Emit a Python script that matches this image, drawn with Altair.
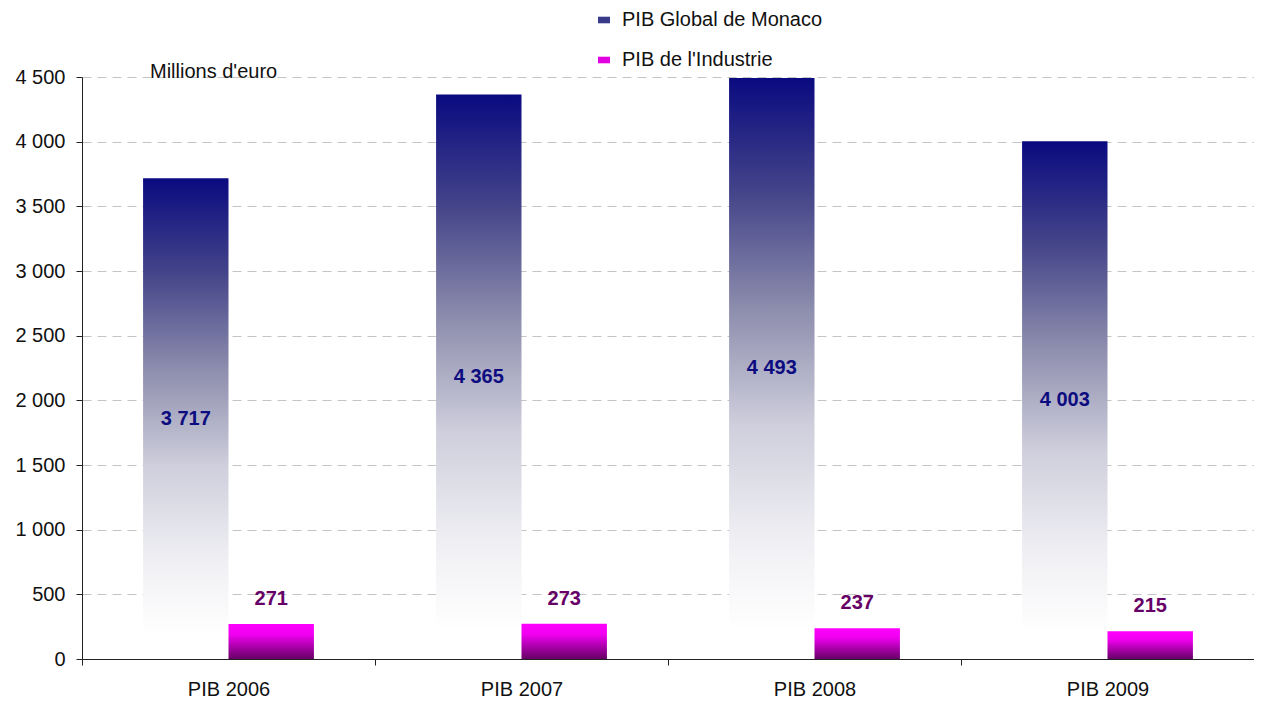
import altair as alt
import pandas as pd

categories = ["PIB 2006", "PIB 2007", "PIB 2008", "PIB 2009"]
pib_global = [3717, 4365, 4493, 4003]
pib_industrie = [271, 273, 237, 215]
series_names = ["PIB Global de Monaco", "PIB de l'Industrie"]
y_ticks = [0, 500, 1000, 1500, 2000, 2500, 3000, 3500, 4000, 4500]

rows = []
for c, g, i in zip(categories, pib_global, pib_industrie):
    rows.append({"cat": c, "series": series_names[0], "value": g})
    rows.append({"cat": c, "series": series_names[1], "value": i})
df = pd.DataFrame(rows)

FONT = "Liberation Sans"

base = alt.Chart(df).transform_calculate(
    half="datum.value / 2",
    label="replace(format(datum.value, ','), ',', ' ')",
)

x_enc = alt.X(
    "cat:N",
    sort=categories,
    title=None,
    scale=alt.Scale(paddingInner=0, paddingOuter=0),
    axis=alt.Axis(
        tickBand="extent",
        domainColor="#222222",
        tickColor="#222222",
        tickSize=6,
        labelFontSize=20,
        labelColor="#111111",
        labelPadding=14,
        labelAngle=0,
        grid=False,
    ),
)
xo_enc = alt.XOffset(
    "series:N",
    scale=alt.Scale(domain=series_names, paddingInner=0, paddingOuter=0.715),
    sort=series_names,
)
y_scale = alt.Scale(domain=[0, 4500], nice=False)
y_axis = alt.Axis(
    values=y_ticks,
    labelExpr="replace(format(datum.value, ','), ',', ' ')",
    domainColor="#222222",
    tickColor="#222222",
    tickSize=6,
    labelFontSize=20,
    labelColor="#111111",
    labelPadding=11,
    grid=True,
    gridColor="#c4c4c4",
    gridDash=[9, 6],
    gridWidth=1,
)

grad_global = alt.LinearGradient(
    gradient="linear",
    x1=0, x2=0, y1=0, y2=1,
    stops=[
        alt.GradientStop(offset=0, color="#0a0a80"),
        alt.GradientStop(offset=0.2, color="#45458a"),
        alt.GradientStop(offset=0.4, color="#8e8eae"),
        alt.GradientStop(offset=0.6, color="#cfcfdd"),
        alt.GradientStop(offset=0.8, color="#f0f0f4"),
        alt.GradientStop(offset=0.95, color="#ffffff"),
        alt.GradientStop(offset=1, color="#ffffff"),
    ],
)
grad_ind = alt.LinearGradient(
    gradient="linear",
    x1=0, x2=0, y1=0, y2=1,
    stops=[
        alt.GradientStop(offset=0, color="#ff00ff"),
        alt.GradientStop(offset=0.3, color="#f000f0"),
        alt.GradientStop(offset=0.65, color="#aa00aa"),
        alt.GradientStop(offset=1, color="#660066"),
    ],
)

bars_global = base.transform_filter(alt.datum.series == series_names[0]).mark_bar(
    color=grad_global
).encode(x=x_enc, xOffset=xo_enc, y=alt.Y("value:Q", scale=y_scale, axis=y_axis, title=None))

bars_ind = base.transform_filter(alt.datum.series == series_names[1]).mark_bar(
    color=grad_ind
).encode(x=x_enc, xOffset=xo_enc, y=alt.Y("value:Q", scale=y_scale, axis=y_axis, title=None))

text_global = base.transform_filter(alt.datum.series == series_names[0]).mark_text(
    font=FONT, fontSize=20, fontWeight="bold", color="#0c0c80", baseline="middle"
).encode(x=x_enc, xOffset=xo_enc, y=alt.Y("half:Q", scale=y_scale, axis=y_axis, title=None), text="label:N")

text_ind = base.transform_filter(alt.datum.series == series_names[1]).mark_text(
    font=FONT, fontSize=20, fontWeight="bold", color="#660066", baseline="alphabetic", dy=-19
).encode(x=x_enc, xOffset=xo_enc, y=alt.Y("value:Q", scale=y_scale, axis=y_axis, title=None), text="label:N")

legend_layer = base.mark_square(opacity=0).encode(
    x=x_enc,
    xOffset=xo_enc,
    y=alt.Y("half:Q", scale=y_scale, axis=y_axis, title=None),
    color=alt.Color(
        "series:N",
        scale=alt.Scale(domain=series_names, range=["#3a3a8a", "#e000e0"]),
        legend=alt.Legend(
            title=None,
            orient="none",
            legendX=512,
            legendY=-67,
            symbolType="M-1,-0.55H1V0.55H-1Z",
            symbolSize=144,
            symbolOpacity=1,
            symbolStrokeWidth=0,
            labelFontSize=20,
            labelFont=FONT,
            labelColor="#111111",
            labelOffset=8,
            labelLimit=0,
            rowPadding=20,
        ),
    ),
)

unit_df = pd.DataFrame({"t": ["Millions d'euro"]})
unit_text = alt.Chart(unit_df).mark_text(
    font=FONT, fontSize=20, align="left", baseline="middle", color="#111111"
).encode(x=alt.value(68), y=alt.value(-5), text="t:N")

chart = alt.layer(
    bars_global, bars_ind, text_global, text_ind, legend_layer, unit_text
).properties(
    width=1172,
    height=582,
    autosize=alt.AutoSizeParams(type="none"),
    padding={"left": 74, "top": 69, "right": 0, "bottom": 42},
).configure(font=FONT).configure_view(stroke=None)

chart.save("out.html", embed_options={"renderer": "svg", "actions": False})
